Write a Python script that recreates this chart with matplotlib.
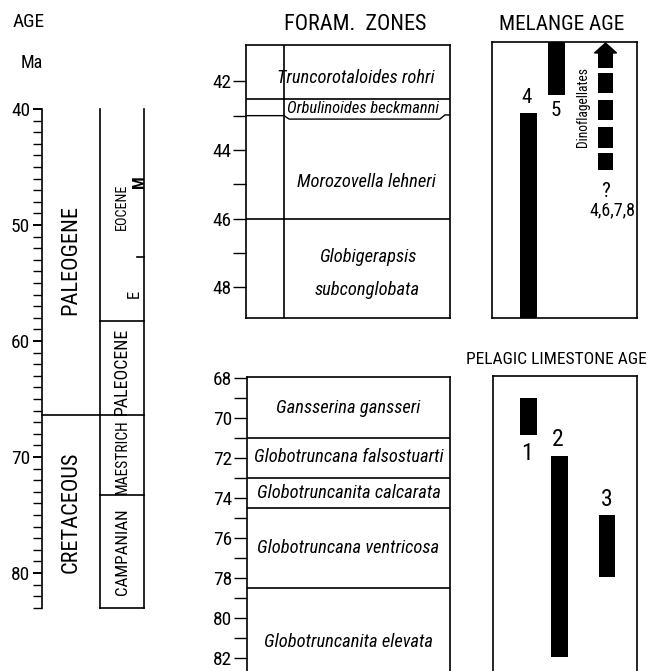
import matplotlib
matplotlib.use('Agg')
import matplotlib.pyplot as plt
from matplotlib import font_manager as fm
from matplotlib.patches import ConnectionPatch, Polygon
import numpy as np

_avail = {f.name for f in fm.fontManager.ttflist}
FAM = 'DejaVu Sans'
for cand in ['Liberation Sans Narrow', 'Roboto Condensed', 'Open Sans Condensed',
             'Roboto', 'DejaVu Sans']:
    if cand in _avail:
        FAM = cand
        break
plt.rcParams['font.family'] = [FAM, 'DejaVu Sans']

W, H = 648, 671
fig = plt.figure(figsize=(W / 100, H / 100), dpi=100)
R = fig.canvas.get_renderer()
WEXP = 0.35


def px_axes(x0, x1, y0, y1):
    return fig.add_axes([x0 / W, 1 - y1 / H, (x1 - x0) / W, (y1 - y0) / H])


def fit_sizes(t, target, cap, max_w=None, rotated=False):
    """Font size compromising between reference length and cap height, and the
    largest size that keeps the text within max_w pixels."""
    bb = t.get_window_extent(renderer=R)
    w = bb.height if rotated else bb.width
    fs_w = t.get_fontsize() * target / max(w, 1)
    fs = fs_w ** WEXP * cap ** (1 - WEXP)
    fs_max = fs_w * max_w / target if max_w is not None else 1e9
    return fs, fs_max


def fit(t, target, cap, max_w=None, rotated=False):
    fs, fs_max = fit_sizes(t, target, cap, max_w, rotated)
    t.set_fontsize(min(fs, fs_max))
    return t


def size_for(s, target, cap):
    t = fig.text(0, 0, s, fontsize=10)
    w = t.get_window_extent(renderer=R).width
    t.remove()
    fs_w = 10 * target / w
    return fs_w ** WEXP * cap ** (1 - WEXP)

# ------------------------------------------------------------------ data
age_major = [40, 50, 60, 70, 80]
age_minor = list(range(40, 84))
age_top, age_bottom = 40, 83

era_names = ['PALEOGENE', 'CRETACEOUS']
era_label_ages = [53.0, 74.8]
era_label_len = [100, 111]
era_label_max = [120, 140]
era_boundary = 66.4

epoch_names = ['EOCENE', 'PALEOCENE', 'MAESTRICH', 'CAMPANIAN']
epoch_label_ages = [48.4, 62.6, 70.0, 78.2]
epoch_label_len = [40, 86, 73, 77]
epoch_label_max = [52, 92, 75, 105]
epoch_label_cap = [11, 13, 13, 13]
epoch_boundaries = [58.3, 73.3]
eocene_subdiv = 52.8
eocene_sub_names = ['M', 'E']
eocene_sub_ages = [46.3, 55.9]

upper_ticks_major = [42, 44, 46, 48]
upper_ticks_minor = [43, 45, 47]
upper_top, upper_bottom = 40.94, 48.9
upper_zone_names = ['Truncorotaloides rohri', 'Orbulinoides beckmanni',
                    'Morozovella lehneri', 'Globigerapsis', 'subconglobata']
upper_label_ages = [41.9, 42.78, 44.94, 47.12, 48.08]
upper_label_len = [145, 143, 124, 91, 118]
upper_label_max = [162, 152, 160, 160, 160]
upper_full_boundaries = [42.5, 46.0]
orbulinoides_base = 43.0
orbulinoides_underline = 43.1

lower_ticks_major = [68, 70, 72, 74, 76, 78, 80, 82]
lower_ticks_minor = [69, 71, 73, 75, 77, 79, 81]
lower_top, lower_bottom = 67.95, 83.6
lower_zone_names = ['Gansserina gansseri', 'Globotruncana falsostuarti',
                    'Globotruncanita calcarata', 'Globotruncana ventricosa',
                    'Globotruncanita elevata']
lower_label_ages = [69.5, 71.95, 73.75, 76.5, 81.2]
lower_label_len = [126, 172, 157, 160, 154]
lower_label_max = [192, 192, 192, 192, 192]
lower_boundaries = [71.0, 73.0, 74.5, 78.5]

melange_labels = ['4', '5']
melange_start = [42.92, 40.85]
melange_end = [48.9, 42.4]
melange_label_ages = [42.46, 42.84]

dino_top = [41.17, 41.76, 42.54, 43.33, 44.09]
dino_bottom = [41.61, 42.34, 43.13, 43.94, 44.58]
dino_arrow_tip = 40.88

pelagic_labels = ['1', '2', '3']
pelagic_start = [69.0, 71.9, 74.85]
pelagic_end = [70.85, 81.95, 77.95]
pelagic_label_ages = [71.75, 71.1, 74.1]

LW = 1.2
K = 'black'
TICK_FS = size_for('40', 19, 14)

# ------------------------------------------------------------------ left time scale
axL = px_axes(42, 144, 109, 109 + 43 * 11.6)
axL.set_xlim(0, 1)
axL.set_ylim(age_bottom, age_top)
for s in ['top', 'right', 'bottom']:
    axL.spines[s].set_visible(False)
axL.spines['left'].set_linewidth(LW)
axL.set_yticks(age_major)
axL.set_yticks(age_minor, minor=True)
axL.tick_params(axis='y', which='both', direction='out', length=6.5, width=1.0,
                labelsize=TICK_FS, pad=2)
axL.tick_params(axis='y', which='major', width=1.4)
axL.set_xticks([])
axL.patch.set_visible(False)

xe = (100 - 42) / 102
axL.plot([xe, xe], [age_top, age_bottom], color=K, lw=LW, clip_on=False)
axL.plot([1, 1], [age_top, age_bottom], color=K, lw=LW, clip_on=False)
axL.plot([xe, 1], [age_bottom, age_bottom], color=K, lw=LW, clip_on=False)
for b in epoch_boundaries:
    axL.plot([xe, 1], [b, b], color=K, lw=LW, clip_on=False)
axL.plot([0, 1], [era_boundary, era_boundary], color=K, lw=LW, clip_on=False)
axL.plot([0.93, 1], [eocene_subdiv, eocene_subdiv], color=K, lw=LW, clip_on=False)

for name, a, L, mw in zip(era_names, era_label_ages, era_label_len, era_label_max):
    t = axL.text(xe / 2, a, name, rotation=90, ha='center', va='center', fontsize=14)
    fit(t, L, 17, max_w=mw, rotated=True)
ep_x = (xe + 1) / 2
for name, a, L, mw, c in zip(epoch_names, epoch_label_ages, epoch_label_len,
                             epoch_label_max, epoch_label_cap):
    t = axL.text(ep_x, a, name, rotation=90, ha='center', va='center', fontsize=10)
    fit(t, L, c, max_w=mw, rotated=True)
for name, a, x in zip(eocene_sub_names, eocene_sub_ages, [0.955, 0.9]):
    axL.text(x, a, name, rotation=90, ha='center', va='center', fontsize=12,
             fontweight='bold' if name == 'M' else 'normal')

# ------------------------------------------------------------------ upper foram zones
axU = px_axes(246, 450, 45, 318)
axU.set_xlim(0, 1)
axU.set_ylim(upper_bottom, upper_top)
axU.patch.set_visible(False)
for s in axU.spines.values():
    s.set_linewidth(LW)
axU.set_xticks([])
axU.set_yticks(upper_ticks_major)
axU.set_yticks(upper_ticks_minor, minor=True)
axU.tick_params(axis='y', which='both', direction='out', length=9.5, width=1.0,
                labelsize=TICK_FS, pad=1)
xi = (284 - 246) / 204
axU.plot([xi, xi], [upper_top, upper_bottom], color=K, lw=LW)
for b in upper_full_boundaries:
    axU.plot([0, 1], [b, b], color=K, lw=LW)
axU.plot([0, xi, xi + 0.025, 0.95, 0.975, 1.0],
         [orbulinoides_base, orbulinoides_base, orbulinoides_underline,
          orbulinoides_underline, orbulinoides_base - 0.02, orbulinoides_base - 0.02],
         color=K, lw=1.0, clip_on=False)

# ------------------------------------------------------------------ lower foram zones
axB = px_axes(247, 450, 377, 690)
axB.set_xlim(0, 1)
axB.set_ylim(lower_bottom, lower_top)
axB.patch.set_visible(False)
for s in axB.spines.values():
    s.set_linewidth(LW)
axB.set_xticks([])
axB.set_yticks(lower_ticks_major)
axB.set_yticks(lower_ticks_minor, minor=True)
axB.tick_params(axis='y', which='both', direction='out', length=9.5, width=1.0,
                labelsize=TICK_FS, pad=1)
for b in lower_boundaries:
    axB.plot([0, 1], [b, b], color=K, lw=LW)

# zone names: one common italic size, shrunk where a name would not fit
ux = [0.54, 0.573, 0.59, 0.595, 0.595]
zone_texts, zone_fits = [], []
for name, a, x, L, mw in zip(upper_zone_names, upper_label_ages, ux, upper_label_len,
                             upper_label_max):
    t = axU.text(x, a, name, ha='center', va='center', fontsize=11, style='italic')
    zone_texts.append(t)
    zone_fits.append(fit_sizes(t, L, 14, max_w=mw))
for name, a, L, mw in zip(lower_zone_names, lower_label_ages, lower_label_len,
                          lower_label_max):
    t = axB.text(0.5, a, name, ha='center', va='center', fontsize=11, style='italic')
    zone_texts.append(t)
    zone_fits.append(fit_sizes(t, L, 14, max_w=mw))
common = float(np.median([f[0] for f in zone_fits]))
for t, (fs, fs_max) in zip(zone_texts, zone_fits):
    t.set_fontsize(min(common, fs_max))

for ax in (axU, axB):
    for lab in ax.get_yticklabels():
        lab.set_bbox(dict(facecolor='white', edgecolor='none', pad=0.3))

# ------------------------------------------------------------------ melange age
axM = px_axes(492, 637, 42, 318)
axM.set_xlim(0, 1)
axM.set_ylim(upper_bottom, 40.85)
axM.set_xticks([])
axM.set_yticks([])
for s in axM.spines.values():
    s.set_linewidth(LW)
mx = [0.252, 0.445]
axM.bar(mx, [e - s for s, e in zip(melange_start, melange_end)], bottom=melange_start,
        width=0.117, color=K)
for lab, a, x in zip(melange_labels, melange_label_ages, [0.24, 0.441]):
    axM.text(x, a, lab, ha='center', va='center', fontsize=15)
dx = 0.783
axM.bar([dx] * len(dino_top), [b - t for t, b in zip(dino_top, dino_bottom)],
        bottom=dino_top, width=0.103, color=K)
axM.add_patch(Polygon([[dx - 0.076, dino_top[0]], [dx + 0.076, dino_top[0]],
                       [dx, dino_arrow_tip]], closed=True, color=K, clip_on=False))
t = axM.text(0.628, 42.74, 'Dinoflagellates', rotation=90, ha='center', va='center',
             fontsize=10)
fit(t, 66, 13, max_w=80, rotated=True)
axM.text(0.78, 45.22, '?', ha='center', va='center', fontsize=15)
t = axM.text(0.834, 45.75, '4,6,7,8', ha='center', va='center', fontsize=13)
fit(t, 38, 15, max_w=46)

# ------------------------------------------------------------------ pelagic limestone age
axP = px_axes(493, 637, 376, 690)
axP.set_xlim(0, 1)
axP.set_ylim(lower_bottom, 67.9)
axP.set_xticks([])
axP.set_yticks([])
for s in axP.spines.values():
    s.set_linewidth(LW)
px_ = [0.247, 0.462, 0.792]
axP.bar(px_, [e - s for s, e in zip(pelagic_start, pelagic_end)], bottom=pelagic_start,
        width=[0.118, 0.118, 0.111], color=K)
for lab, a, x in zip(pelagic_labels, pelagic_label_ages, [0.236, 0.451, 0.79]):
    axP.text(x, a, lab, ha='center', va='center', fontsize=17)

# ------------------------------------------------------------------ connecting lines
links = [((1.03, 40.0), axL, (-0.02, 41.29), axU),
         ((1.03, 49.74), axL, (-0.005, upper_bottom), axU),
         ((1.04, 67.5), axL, (-0.02, 67.95), axB),
         ((1.03, 83.36), axL, (0.0, 82.9), axB)]
for a, axa, b, axb in links:
    con = ConnectionPatch(xyA=a, coordsA='data', axesA=axa, xyB=b, coordsB='data',
                          axesB=axb, color=K, lw=1.0, clip_on=False, zorder=0)
    axL.add_artist(con)

# ------------------------------------------------------------------ titles
def ftext(x, y, s, target, cap, max_w):
    t = fig.text(x / W, 1 - y / H, s, ha='center', va='center', fontsize=12)
    fit(t, target, cap, max_w=max_w)

ftext(29, 22, 'AGE', 28, 15, 38)
ftext(32, 63, 'Ma', 19, 14, 28)
ftext(355, 25, 'FORAM.  ZONES', 140, 16, 150)
ftext(562, 25, 'MELANGE AGE', 115, 16, 135)
ftext(556, 360, 'PELAGIC LIMESTONE AGE', 178, 16, 180)

fig.savefig('out.png', dpi=100)
